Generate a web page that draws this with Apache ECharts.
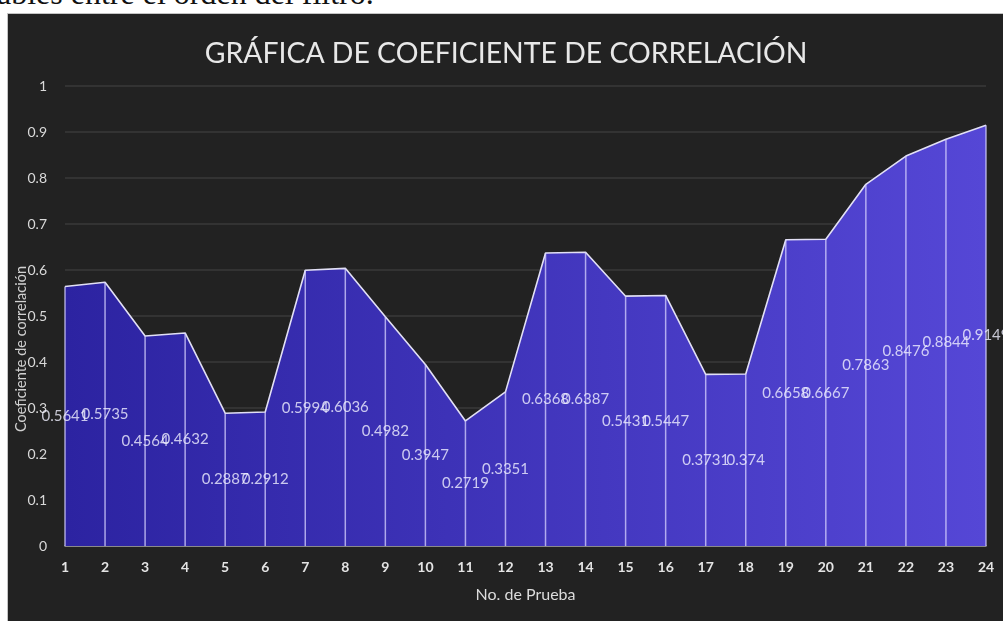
<!DOCTYPE html>
<html>
<head>
<meta charset="utf-8">
<script src="https://cdn.jsdelivr.net/npm/echarts@6/dist/echarts.min.js"></script>
<style>
  html, body { margin: 0; padding: 0; background: #ffffff; overflow: hidden; }
  #captionBox {
    position: absolute; left: 0; top: 0; width: 1003px; height: 13px; overflow: hidden;
  }
  #caption {
    position: absolute; left: -3px; bottom: 4px; line-height: 32px;
    font-family: "Liberation Serif", "DejaVu Serif", serif; font-size: 32px;
    color: #111; white-space: nowrap;
  }
  #frame {
    position: absolute; left: 7px; top: 13px; width: 996px; height: 608px;
    border-left: 1px solid #c4c4c4; border-top: 1px solid #c4c4c4;
    background: #222222;
  }
  #chart { width: 996px; height: 608px; }
</style>
</head>
<body>
<div id="captionBox"><div id="caption">ables entre el orden del filtro.</div></div>
<div id="frame"><div id="chart"></div></div>
<script>
// Correlation coefficient per test run
const pruebas = ['1','2','3','4','5','6','7','8','9','10','11','12',
                 '13','14','15','16','17','18','19','20','21','22','23','24'];
const coeficientes = [0.5641, 0.5735, 0.4564, 0.4632, 0.2887, 0.2912, 0.5994, 0.6036,
                      0.4982, 0.3947, 0.2719, 0.3351, 0.6368, 0.6387, 0.5431, 0.5447,
                      0.3731, 0.374, 0.6658, 0.6667, 0.7863, 0.8476, 0.8844, 0.9149];
const yTicks = [0, 0.1, 0.2, 0.3, 0.4, 0.5, 0.6, 0.7, 0.8, 0.9, 1];

const FONT = 'Lato, "Open Sans", sans-serif';
const chart = echarts.init(document.getElementById('chart'), null, { renderer: 'canvas' });

chart.setOption({
  backgroundColor: '#222222',
  animation: false,
  title: {
    text: 'GRÁFICA DE COEFICIENTE DE CORRELACIÓN',
    left: 'center', top: 21,
    textStyle: { color: '#e8e8e8', fontFamily: FONT, fontWeight: 'normal', fontSize: 28.4 }
  },
  grid: { left: 57, right: 18, top: 72, bottom: 76, containLabel: false },
  xAxis: {
    type: 'category',
    data: pruebas,
    boundaryGap: false,
    name: 'No. de Prueba',
    nameLocation: 'middle',
    nameGap: 41,
    nameTextStyle: { color: '#dcdcdc', fontFamily: FONT, fontSize: 16 },
    axisLine: { show: true, lineStyle: { color: '#a8a8a8', width: 1.5 } },
    axisTick: { show: false },
    axisLabel: { color: '#e4e4e4', fontFamily: FONT, fontSize: 14, fontWeight: 'bold', margin: 14 },
    splitLine: { show: false }
  },
  yAxis: {
    type: 'value',
    min: yTicks[0], max: yTicks[yTicks.length - 1], interval: 0.1,
    axisLine: { show: false },
    axisTick: { show: false },
    axisLabel: {
      color: '#d9d9d9', fontFamily: FONT, fontSize: 14, margin: 18,
      formatter: v => String(Math.round(v * 10) / 10)
    },
    splitLine: { lineStyle: { color: '#3a3a3a', width: 1.5 } }
  },
  graphic: [{
    type: 'text',
    left: 6, top: 252,
    rotation: Math.PI / 2,
    style: {
      text: 'Coeficiente de correlación',
      fill: '#d0d0d0', font: '14.5px ' + FONT
    }
  }],
  series: [
    {
      type: 'line',
      data: coeficientes,
      symbol: 'none',
      lineStyle: { color: '#e2e0f5', width: 1.6 },
      areaStyle: {
        opacity: 1,
        color: new echarts.graphic.LinearGradient(0, 0, 1, 0, [
          { offset: 0, color: '#2c23a1' },
          { offset: 1, color: '#5547d6' }
        ])
      },
      z: 2
    },
    {
      // vertical drop lines from each point down to the axis
      type: 'custom',
      data: coeficientes.map((v, i) => [i, v]),
      renderItem: (params, api) => {
        const top = api.coord([api.value(0), api.value(1)]);
        const bottom = api.coord([api.value(0), 0]);
        return {
          type: 'line',
          shape: { x1: top[0], y1: top[1], x2: bottom[0], y2: bottom[1] },
          style: { stroke: 'rgba(215,210,255,0.75)', lineWidth: 1.5 }
        };
      },
      z: 3
    },
    {
      // value labels centred halfway up each column
      type: 'scatter',
      symbolSize: 0,
      data: coeficientes.map((v, i) => ({ value: [i, v / 2], label: { formatter: String(v) } })),
      label: {
        show: true, position: 'inside',
        color: '#f0f0ff', fontFamily: FONT, fontSize: 15
      },
      z: 4
    }
  ]
});
</script>
</body>
</html>
